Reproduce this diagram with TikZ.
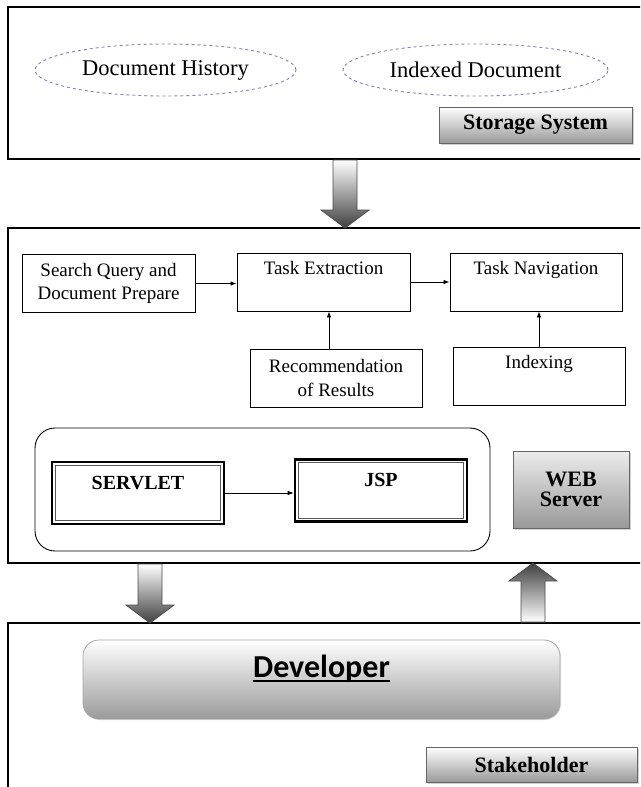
\documentclass[tikz,border=0pt]{standalone}
\usepackage{fontspec}
\setmainfont{Liberation Serif}
\newfontfamily\devfont{Carlito}
\usetikzlibrary{shapes.geometric,arrows.meta,shadows,calc}

\definecolor{ovalline}{HTML}{8E7CC3}
\definecolor{labelgray}{HTML}{9A9A9A}

% underline that sits close to the baseline
\newcommand\devline[1]{\setbox0\hbox{#1}\rlap{\rule[-5pt]{\wd0}{2pt}}\box0}

% block arrow between two frames: from, tip, direction (1 down, -1 up), shading
\newcommand\blockarrow[4]{%
  \shadedraw[bigarrow,#4] ($(#1)+(-12,0)$) -- ($(#2)+(-12,-18*#3)$)
    -- ($(#2)+(-24,-18*#3)$) -- (#2) -- ($(#2)+(24,-18*#3)$)
    -- ($(#2)+(12,-18*#3)$) -- ($(#1)+(12,0)$) -- cycle;}

\tikzset{
  outerframe/.style={draw, line width=2.4pt},
  oval/.style={ellipse, draw=ovalline, dashed, line width=0.9pt, inner sep=0pt,
    font=\fontsize{22.5}{26}\selectfont},
  task/.style={draw, line width=0.9pt, minimum width=173pt, minimum height=58pt,
    inner sep=4pt, align=center, font=\fontsize{19}{23.5}\selectfont},
  toptext/.style 2 args={text height=#1, text depth=#2},
  tag/.style={draw=gray!80!black, line width=0.8pt, top color=white,
    bottom color=labelgray, align=center,
    drop shadow={shadow xshift=1.5pt, shadow yshift=-1.5pt, opacity=0.35},
    font=\bfseries\fontsize{22}{20}\selectfont},
  jspbox/.style={draw, line width=2.6pt, minimum width=172pt, minimum height=62pt,
    inner sep=4pt, font=\bfseries\fontsize{20}{24}\selectfont},
  flow/.style={-{Latex[length=6pt,width=4.5pt]}, line width=0.8pt},
  bigarrow/.style={draw=black!70, line width=0.8pt}
}

\begin{document}
\begin{tikzpicture}[x=1pt, y=-1pt]
  \clip (0,0) rectangle (640,787);
  \fill[white] (0,0) rectangle (640,787);

  % the three layers
  \draw[outerframe] (8,7) rectangle (700,159);
  \draw[outerframe] (8,228) rectangle (700,563);
  \draw[outerframe] (8,623) rectangle (700,820);

  % storage layer
  \node[oval, minimum width=261pt, minimum height=52pt] (history) at (165.5,70) {Document History};
  \node[oval, minimum width=265pt, minimum height=52pt] (indexed) at (475.5,70) {Indexed Document};
  \node[tag, minimum width=193pt, minimum height=36pt] (storage) at (535.5,125) {Storage System};

  % web server layer
  \node[task] (query) at (108.5,283.5) {Search Query and\\Document Prepare};
  \node[task, toptext={17pt}{33pt}] (extract) at (323.5,282) {Task Extraction};
  \node[task, toptext={17pt}{33pt}, minimum width=172pt] (navigate) at (536,282) {Task Navigation};
  \node[task, minimum width=172pt] (recommend) at (336,378) {Recommendation\\of Results};
  \node[task, toptext={17pt}{33pt}, minimum width=172pt] (indexing) at (539,376) {Indexing};

  \draw[flow] (query.east) -- (query.east -| extract.west);
  \draw[flow] (extract.east) -- (navigate.west);
  \draw[flow] ([xshift=-7pt]recommend.north) -- ([xshift=-7pt]recommend.north |- extract.south);
  \draw[flow] (indexing.north) -- (indexing.north |- navigate.south);

  \node[draw, line width=0.9pt, rounded corners=20pt, minimum width=455pt,
    minimum height=123pt] (webapp) at (262.5,489.5) {};
  \node[jspbox, toptext={21pt}{29pt}] (servlet) at (138,493) {SERVLET};
  \node[jspbox, toptext={21pt}{30pt}] (jsp) at (381,490.5) {JSP};
  \foreach \n in {servlet,jsp}
    \draw[gray!70!black, line width=0.8pt] ([shift={(4.5,4.5)}]\n.north west)
      rectangle ([shift={(-4.5,-4.5)}]\n.south east);
  \draw[flow] (servlet.east) -- (servlet.east -| jsp.west);

  \node[tag, minimum width=116pt, minimum height=77pt, top color=gray!15,
    bottom color=gray!80] (web) at (571,489.5) {WEB\\Server};

  % stakeholder layer
  \node[draw=gray!70, line width=0.8pt, rounded corners=16pt, top color=white,
    bottom color=labelgray, minimum width=477pt, minimum height=79pt, inner sep=4pt,
    toptext={33pt}{38pt}, drop shadow={shadow xshift=1pt, shadow yshift=-1pt, opacity=0.25},
    font=\devfont\bfseries\fontsize{32}{36}\selectfont] (developer) at (321.5,679.5)
    {\devline{Developer}};
  \node[tag, minimum width=211pt, minimum height=35pt] (stake) at (531.5,764.5) {Stakeholder};

  % arrows between layers
  \coordinate (down1) at (345,160);
  \coordinate (down1tip) at (345,228);
  \coordinate (down2) at (150,564);
  \coordinate (down2tip) at (150,623);
  \coordinate (up1) at (533,622);
  \coordinate (up1tip) at (533,563);
  \blockarrow{down1}{down1tip}{1}{top color=white, bottom color=black!75}
  \blockarrow{down2}{down2tip}{1}{top color=white, bottom color=black!75}
  \blockarrow{up1}{up1tip}{-1}{top color=black!75, bottom color=white}
\end{tikzpicture}
\end{document}
